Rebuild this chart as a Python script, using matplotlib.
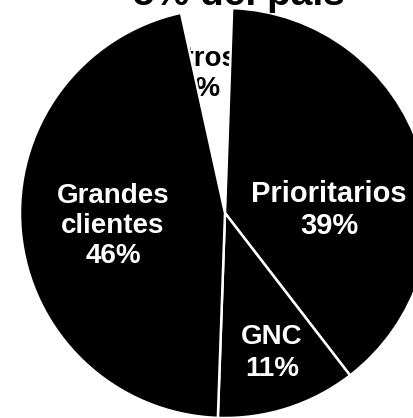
import matplotlib
matplotlib.use("Agg")
import matplotlib.pyplot as plt

categories = ["Prioritarios", "GNC", "Grandes clientes", "Otros"]
values = [39, 11, 46, 4]
labels = ["Prioritarios\n39%", "GNC\n11%", "Grandes\nclientes\n46%", "Otros\n4%"]
title_text = "5% del país"

W, H = 414, 418
fig = plt.figure(figsize=(W / 100, H / 100), dpi=100)
fig.patch.set_facecolor("white")
ax = fig.add_axes([0, 0, 1, 1])

wedges, _ = ax.pie(values, colors=["black", "black", "black", "white"],
                   startangle=88.0, counterclock=False,
                   center=(225, H - 213), radius=205,
                   wedgeprops=dict(edgecolor="white", linewidth=1.8))
wedges[3].set_zorder(0.2)
for w in wedges[:3]:
    w.set_zorder(1)

ax.set_xlim(0, W)
ax.set_ylim(0, H)
ax.set_aspect("auto")
ax.axis("off")

font = ["Liberation Sans", "DejaVu Sans"]
ax.text(329, H - 210, labels[0], color="white", fontsize=21, fontweight="bold",
        family=font, ha="center", va="center", linespacing=1.22, zorder=3)
ax.text(272, H - 353, labels[1], color="white", fontsize=20, fontweight="bold",
        family=font, ha="center", va="center", linespacing=1.3, zorder=3)
ax.text(113, H - 226, labels[2], color="white", fontsize=20, fontweight="bold",
        family=font, ha="center", va="center", linespacing=1.22, zorder=3)
ax.text(201, H - 74, labels[3], color="black", fontsize=20, fontweight="bold",
        family=font, ha="center", va="center", linespacing=1.2, zorder=0.5)

ax.text(239, H - 5, title_text, color="black", fontsize=28, fontweight="bold",
        family=font, ha="center", va="baseline", zorder=3, clip_on=False)

fig.savefig("out.png", dpi=100, facecolor="white")
